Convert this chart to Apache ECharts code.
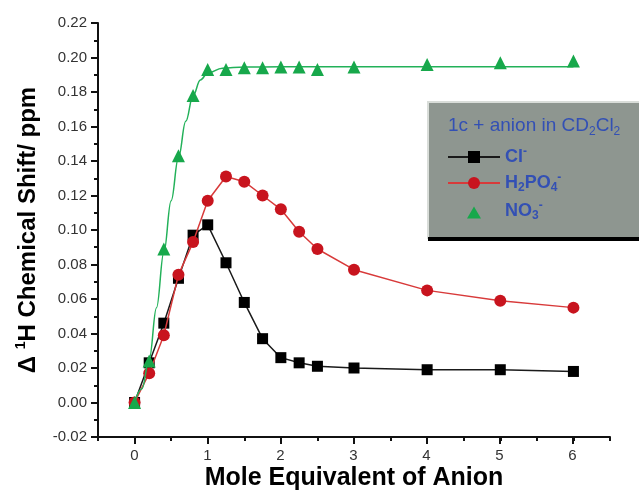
<!DOCTYPE html>
<html>
<head>
<meta charset="utf-8">
<script src="https://cdn.jsdelivr.net/npm/echarts@6/dist/echarts.min.js"></script>
<style>
  html, body { margin: 0; padding: 0; background: #fff; }
  #chart { width: 639px; height: 492px; }
</style>
</head>
<body>
<div id="chart"></div>
<script>
// titration data
var clX = [0, 0.2, 0.4, 0.6, 0.8, 1.0, 1.25, 1.5, 1.75, 2.0, 2.25, 2.5, 3, 4, 5, 6];
var clY = [0, 0.023, 0.046, 0.072, 0.097, 0.103, 0.081, 0.058, 0.037, 0.026, 0.023, 0.021, 0.020, 0.019, 0.019, 0.018];

var h2po4X = [0, 0.2, 0.4, 0.6, 0.8, 1.0, 1.25, 1.5, 1.75, 2.0, 2.25, 2.5, 3, 4, 5, 6];
var h2po4Y = [0, 0.017, 0.039, 0.074, 0.093, 0.117, 0.131, 0.128, 0.120, 0.112, 0.099, 0.089, 0.077, 0.065, 0.059, 0.055];

var no3X = [0, 0.2, 0.4, 0.6, 0.8, 1.0, 1.25, 1.5, 1.75, 2.0, 2.25, 2.5, 3, 4, 5, 6];
var no3Y = [0, 0.024, 0.089, 0.143, 0.178, 0.193, 0.193, 0.194, 0.194, 0.1945, 0.1945, 0.193, 0.1945, 0.196, 0.197, 0.198];

// fitted curve for NO3-
var fitX = [0, 0.1, 0.2, 0.3, 0.4, 0.5, 0.6, 0.7, 0.8, 0.9, 1.0, 1.2, 1.5, 2, 3, 4, 5, 6];
var fitY = [0, 0.008, 0.025, 0.055, 0.087, 0.117, 0.142, 0.163, 0.178, 0.187, 0.191, 0.1938, 0.1945, 0.1946, 0.1946, 0.1946, 0.1946, 0.1946];

var xTicks = [0, 1, 2, 3, 4, 5, 6];

function pairs(xs, ys) {
    return xs.map(function(x, i) { return [x, ys[i]]; });
}

var blue = '#3350b4';
var font = 'Liberation Sans, Arial, sans-serif';

var legendNames = {
    'Cl-': '{b|Cl}{sup|-}',
    'H2PO4-': '{b|H}{sub|2}{b|PO}{sub|4}{sup|-}',
    'NO3-': '{b|NO}{sub|3}{sup|-}'
};

// triangle centred in the 52x15 legend icon box (corner points keep it from stretching)
var triIcon = 'path://M0,0L0,0M52,15L52,15M19,15L26,3L33,15Z';

var chart = echarts.init(document.getElementById('chart'));

var option = {
    backgroundColor: '#fff',
    animation: false,
    textStyle: { fontFamily: font },
    grid: [
        { left: 98, right: 29, top: 23, bottom: 55, outerBoundsMode: 'none' },
        // second grid only for the major ticks / labels at integer positions
        { left: 134.5, right: 66.5, top: 23, bottom: 55, outerBoundsMode: 'none' }
    ],
    xAxis: [{
        type: 'value',
        gridIndex: 0,
        min: -0.5,
        max: 6.5,
        interval: 0.5,
        name: 'Mole Equivalent of Anion',
        nameLocation: 'middle',
        nameGap: 29,
        nameTextStyle: { fontSize: 25, fontWeight: 'bold', color: '#000', fontFamily: font },
        axisLine: { onZero: false, lineStyle: { color: '#111', width: 2 } },
        axisTick: { length: 4, lineStyle: { color: '#111', width: 2 } },
        axisLabel: { show: false },
        splitLine: { show: false }
    }, {
        type: 'value',
        gridIndex: 1,
        min: xTicks[0],
        max: xTicks[xTicks.length - 1],
        interval: 1,
        axisLine: { show: false, onZero: false },
        axisTick: { length: 7, lineStyle: { color: '#111', width: 2 } },
        axisLabel: { margin: 11, fontSize: 15, color: '#333', fontFamily: font },
        splitLine: { show: false }
    }],
    yAxis: [{
        type: 'value',
        gridIndex: 0,
        min: -0.02,
        max: 0.22,
        interval: 0.02,
        name: '{d|\u0394 }{sup|1}{d|H Chemical Shift/ ppm}',
        nameLocation: 'middle',
        nameGap: 56,
        nameTextStyle: {
            fontFamily: font,
            color: '#000',
            rich: {
                d: { fontSize: 24, fontWeight: 'bold', lineHeight: 28, verticalAlign: 'middle', fontFamily: font },
                sup: { fontSize: 14, fontWeight: 'bold', lineHeight: 14, verticalAlign: 'top', fontFamily: font }
            }
        },
        axisLine: { onZero: false, lineStyle: { color: '#111', width: 2 } },
        axisTick: { length: 7, lineStyle: { color: '#111', width: 2 } },
        minorTick: { show: true, splitNumber: 2, length: 4, lineStyle: { color: '#111', width: 2 } },
        axisLabel: {
            margin: 11, fontSize: 15, color: '#333', fontFamily: font,
            formatter: function(v) { return v.toFixed(2); }
        },
        splitLine: { show: false }
    }, {
        type: 'value',
        gridIndex: 1,
        min: -0.02,
        max: 0.22,
        show: false
    }],
    legend: {
        data: ['Cl-', 'H2PO4-', { name: 'NO3-', icon: triIcon }],
        orient: 'vertical',
        left: 447,
        top: 146,
        padding: 0,
        itemWidth: 52,
        itemHeight: 15,
        itemGap: 6,
        formatter: function(name) { return legendNames[name]; },
        textStyle: {
            rich: {
                b: { fontSize: 18, fontWeight: 'bold', color: blue, lineHeight: 22, verticalAlign: 'middle', fontFamily: font },
                sub: { fontSize: 12, fontWeight: 'bold', color: blue, lineHeight: 11, verticalAlign: 'bottom', fontFamily: font },
                sup: { fontSize: 12, fontWeight: 'bold', color: blue, lineHeight: 11, verticalAlign: 'top', fontFamily: font }
            }
        }
    },
    graphic: [{
        type: 'rect',
        shape: { x: 428, y: 102, width: 220, height: 136 },
        style: { fill: '#8e9690', stroke: '#d9ddd9', lineWidth: 2 },
        z: 0
    }, {
        type: 'rect',
        shape: { x: 428, y: 237, width: 220, height: 4 },
        style: { fill: '#000' },
        z: 0
    }, {
        type: 'text',
        x: 448,
        y: 114,
        z: 1,
        style: {
            text: '{n|1c + anion in CD}{s|2}{n|Cl}{s|2}',
            fill: blue,
            rich: {
                n: { fontSize: 19, fill: blue, lineHeight: 24, verticalAlign: 'middle', fontFamily: font },
                s: { fontSize: 12, fill: blue, lineHeight: 11, verticalAlign: 'bottom', fontFamily: font }
            }
        }
    }],
    series: [{
        name: 'Cl-',
        type: 'line',
        xAxisIndex: 0,
        yAxisIndex: 0,
        data: pairs(clX, clY),
        symbol: 'rect',
        symbolSize: 11,
        itemStyle: { color: '#000' },
        lineStyle: { color: '#1a1a1a', width: 1.5 },
        z: 2
    }, {
        name: 'H2PO4-',
        type: 'line',
        xAxisIndex: 0,
        yAxisIndex: 0,
        data: pairs(h2po4X, h2po4Y),
        symbol: 'circle',
        symbolSize: 12,
        itemStyle: { color: '#c8141e' },
        lineStyle: { color: '#d83a3a', width: 1.5 },
        z: 3
    }, {
        name: 'fit',
        type: 'line',
        xAxisIndex: 0,
        yAxisIndex: 0,
        data: pairs(fitX, fitY),
        smooth: 0.4,
        smoothMonotone: 'x',
        showSymbol: false,
        symbol: 'none',
        lineStyle: { color: '#22b159', width: 1.5 },
        z: 4
    }, {
        name: 'NO3-',
        type: 'scatter',
        xAxisIndex: 0,
        yAxisIndex: 0,
        data: pairs(no3X, no3Y),
        symbol: 'triangle',
        symbolSize: 13,
        itemStyle: { color: '#17a84b', opacity: 1 },
        z: 5
    }]
};

chart.setOption(option);
</script>
</body>
</html>
